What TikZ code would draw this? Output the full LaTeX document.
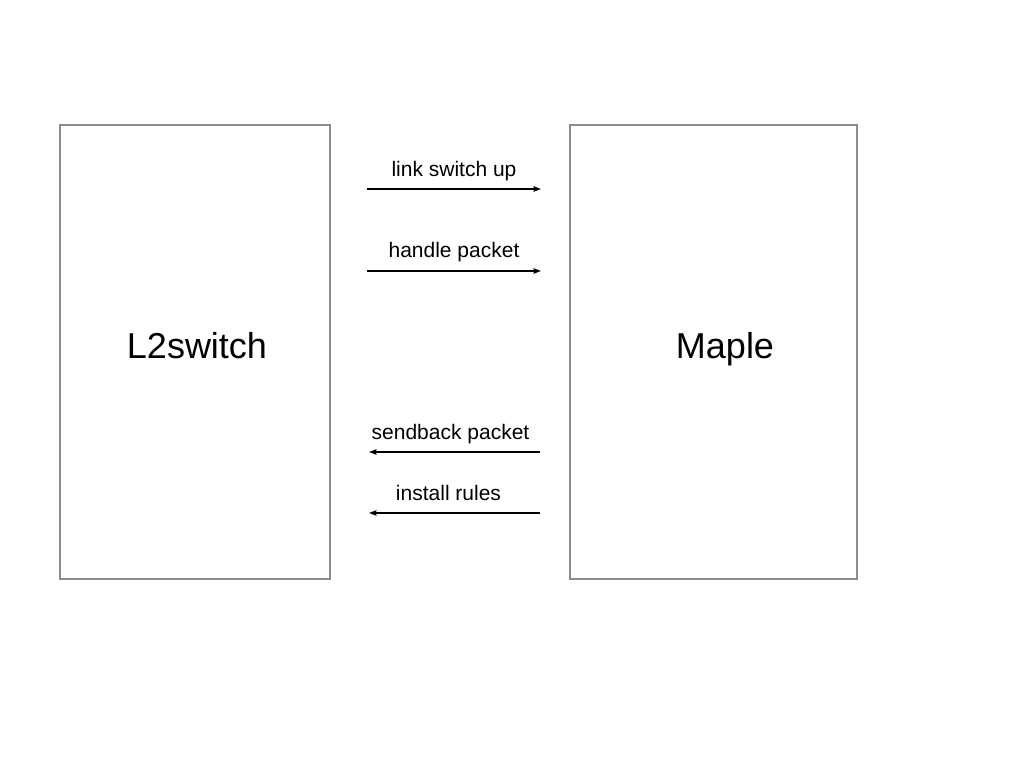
\documentclass[tikz,border=0pt]{standalone}
\usepackage{fontspec}
\setmainfont{Liberation Sans}
\usepackage{xcolor}
\usetikzlibrary{arrows.meta}
\definecolor{boxgray}{HTML}{8C8C8C}

\begin{document}
\begin{tikzpicture}[
			     x=1pt, y=1pt,
			     >={Stealth[length=7.5pt,width=5.5pt,inset=1pt]},
			     block/.style={draw=boxgray, line width=1.6pt, minimum width=#1, minimum height=454pt, inner sep=0pt},
			     party text/.style={font=\fontsize{36}{40}\selectfont, inner sep=0pt, text height=26pt, text depth=12pt},
			     msg/.style={font=\fontsize{21}{24}\selectfont, inner sep=0pt, text height=15pt, text depth=4pt},
			     normal line/.style={->, line width=1.4pt}
			     ] 
\useasboundingbox (0,0) rectangle (1024,768);
% the two parties
\node[block=270pt, label={[party text, xshift=2pt]center:L2switch}] (l2switch) at (195,416) {};
\node[block=287pt, label={[party text, xshift=11.5pt]center:Maple}] (maple) at (713.5,416) {};
% message ends
\coordinate (up-a) at (367,579);   \coordinate (up-b) at (541,579);
\coordinate (pkt-a) at (367,497);  \coordinate (pkt-b) at (541,497);
\coordinate (back-a) at (369,316); \coordinate (back-b) at (540,316);
\coordinate (rule-a) at (369,255); \coordinate (rule-b) at (540,255);
\path (up-a) edge[normal line] node[msg, above=7.5pt] {link switch up} (up-b);
\path (pkt-a) edge[normal line] node[msg, above=9pt] {handle packet} (pkt-b);
\path (back-b) edge[normal line] node[msg, above=8pt, xshift=-4pt] {sendback packet} (back-a);
\path (rule-b) edge[normal line] node[msg, above=8pt, xshift=-6pt] {install rules} (rule-a);
\end{tikzpicture}
\end{document}
